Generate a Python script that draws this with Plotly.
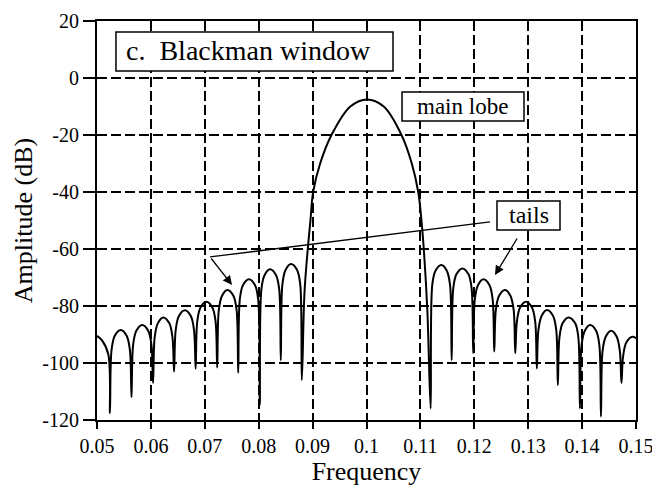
import plotly.graph_objects as go

# curve: nulls, lobe shoulders and lobe peaks (frequency, dB)
frecuencia = [
    0.0500, 0.0509, 0.0521, 0.0524,
    0.0527, 0.0533, 0.0544, 0.0555, 0.0561, 0.0564,
    0.0567, 0.0573, 0.0584, 0.0595, 0.0601, 0.0604,
    0.0607, 0.0613, 0.0623, 0.0634, 0.0640, 0.0643,
    0.0646, 0.0652, 0.0663, 0.0674, 0.0680, 0.0683,
    0.0686, 0.0692, 0.0703, 0.0714, 0.0720, 0.0723,
    0.0726, 0.0732, 0.0742, 0.0753, 0.0759, 0.0762,
    0.0765, 0.0771, 0.0782, 0.0793, 0.0799, 0.0802,
    0.0805, 0.0811, 0.0821, 0.0832, 0.0838, 0.0841,
    0.0844, 0.0850, 0.0860, 0.0871, 0.0877, 0.0880,
    0.0885, 0.0892, 0.0896, 0.0901, 0.0914, 0.0935, 0.0970, 0.1001,
    0.1032, 0.1065, 0.1084, 0.1096, 0.1102, 0.1107, 0.1113, 0.1119,
    0.1122, 0.1128, 0.1139, 0.1149, 0.1155, 0.1158,
    0.1161, 0.1167, 0.1178, 0.1189, 0.1195, 0.1198,
    0.1201, 0.1207, 0.1217, 0.1228, 0.1234, 0.1237,
    0.1240, 0.1246, 0.1257, 0.1267, 0.1273, 0.1276,
    0.1279, 0.1285, 0.1296, 0.1307, 0.1313, 0.1316,
    0.1319, 0.1325, 0.1335, 0.1346, 0.1352, 0.1355,
    0.1358, 0.1364, 0.1375, 0.1387, 0.1393, 0.1396,
    0.1399, 0.1405, 0.1415, 0.1426, 0.1432, 0.1435,
    0.1438, 0.1444, 0.1454, 0.1464, 0.1470, 0.1473,
    0.1476, 0.1482, 0.1493, 0.1500,
]
amplitud = [
    -90.5, -92.0, -97.0, -117.5,
    -95.4, -90.4, -88.4, -90.4, -95.4, -112.0,
    -93.7, -88.7, -86.7, -88.7, -93.7, -107.0,
    -91.0, -86.0, -84.0, -86.0, -91.0, -103.0,
    -88.5, -83.5, -81.5, -83.5, -88.5, -102.0,
    -85.5, -80.5, -78.5, -80.5, -85.5, -101.6,
    -81.4, -76.4, -74.4, -76.4, -81.4, -103.4,
    -77.6, -72.6, -70.6, -72.6, -77.6, -114.7,
    -74.1, -69.1, -67.1, -69.1, -74.1, -99.0,
    -72.3, -67.3, -65.3, -67.3, -72.3, -106.0,
    -75.0, -58.0, -50.0, -40.0, -30.0, -20.0, -10.0, -7.5,
    -10.0, -20.0, -30.0, -40.0, -50.0, -62.0, -82.0, -116.0,
    -72.6, -67.6, -65.6, -67.6, -72.6, -99.0,
    -73.8, -68.8, -66.8, -68.8, -73.8, -96.6,
    -77.6, -72.6, -70.6, -72.6, -77.6, -96.0,
    -81.4, -76.4, -74.4, -76.4, -81.4, -96.6,
    -85.5, -80.5, -78.5, -80.5, -85.5, -101.9,
    -88.4, -83.4, -81.4, -83.4, -88.4, -107.7,
    -91.0, -86.0, -84.0, -86.0, -91.0, -115.9,
    -93.7, -88.7, -86.7, -88.7, -93.7, -118.8,
    -95.7, -90.7, -88.7, -90.7, -95.7, -107.0,
    -97.8, -92.8, -90.8, -91.3,
]

x_ticks = [0.05, 0.06, 0.07, 0.08, 0.09, 0.10, 0.11, 0.12, 0.13, 0.14, 0.15]
x_labels = ["0.05", "0.06", "0.07", "0.08", "0.09", "0.1", "0.11", "0.12", "0.13", "0.14", "0.15"]
y_ticks = [-120, -100, -80, -60, -40, -20, 0, 20]
y_labels = ["-120", "-100", "-80", "-60", "-40", "-20", "0", "20"]

FUENTE = "Liberation Serif"
NEGRO = "#000000"

plot = go.Figure()
plot.add_trace(
    go.Scatter(
        x=frecuencia,
        y=amplitud,
        mode="lines",
        line=dict(color=NEGRO, width=2, shape="spline", smoothing=1),
        showlegend=False,
        hoverinfo="skip",
    )
)

# label boxes (white, black border, hide the grid behind them)
cajas = [
    (0.05352, 0.10492, 2.46, 16.1),
    (0.10659, 0.12922, -15.09, -4.91),
    (0.12421, 0.13590, -53.3, -43.2),
]
for x0, x1, y0, y1 in cajas:
    plot.add_shape(
        type="rect", x0=x0, x1=x1, y0=y0, y1=y1,
        xref="x", yref="y", layer="above",
        line=dict(color=NEGRO, width=1.5), fillcolor="white",
    )

# long callout line for the left tails
plot.add_shape(
    type="line", x0=0.07097, y0=-62.8, x1=0.12291, y1=-50.5,
    xref="x", yref="y", layer="above", line=dict(color=NEGRO, width=1.3),
)

textos = [
    ("c.  Blackman window", 0.07811, 9.6, 28),
    ("main lobe", 0.1179, -10.0, 23),
    ("tails", 0.13006, -48.2, 24),
]
for texto, x, y, tam in textos:
    plot.add_annotation(
        text=texto, x=x, y=y, xref="x", yref="y", showarrow=False,
        font=dict(family=FUENTE, size=tam, color=NEGRO),
    )

flechas = [
    (0.07505, -72.6, 0.07097, -62.8),
    (0.12384, -69.1, 0.12811, -55.8),
]
for x, y, ax, ay in flechas:
    plot.add_annotation(
        text="", x=x, y=y, ax=ax, ay=ay, xref="x", yref="y", axref="x", ayref="y",
        showarrow=True, arrowhead=2, arrowsize=1.4, arrowwidth=1.3, arrowcolor=NEGRO,
    )

eje = dict(
    showline=True, linecolor=NEGRO, linewidth=2, mirror=True, automargin=False,
    showgrid=True, gridcolor=NEGRO, gridwidth=1.5, griddash="10px,4px",
    zeroline=False, ticks="outside", tickcolor=NEGRO, tickwidth=2,
    tickfont=dict(family=FUENTE, size=20, color=NEGRO),
)
plot.update_layout(
    xaxis=dict(
        eje, range=[0.05, 0.15], tickvals=x_ticks, ticktext=x_labels, ticklen=7,
        title=dict(text="Frequency", font=dict(family=FUENTE, size=26, color=NEGRO), standoff=2),
    ),
    yaxis=dict(
        eje, range=[-120, 20], tickvals=y_ticks, ticktext=y_labels, ticklen=12,
        title=dict(text="Amplitude (dB)", font=dict(family=FUENTE, size=26, color=NEGRO), standoff=2),
    ),
    # short inside ticks along the top edge
    xaxis2=dict(
        overlaying="x", anchor="y", side="top", range=[0.05, 0.15], tickvals=x_ticks,
        showticklabels=False, showgrid=False, zeroline=False, showline=False,
        ticks="inside", ticklen=9, tickwidth=2, tickcolor=NEGRO,
    ),
    # page body adds an 8px offset, so the figure is 8px smaller
    width=652,
    height=484,
    margin=dict(l=89, r=24, t=13, b=72),
    plot_bgcolor="white",
    paper_bgcolor="white",
)
plot.write_html("out.html")
